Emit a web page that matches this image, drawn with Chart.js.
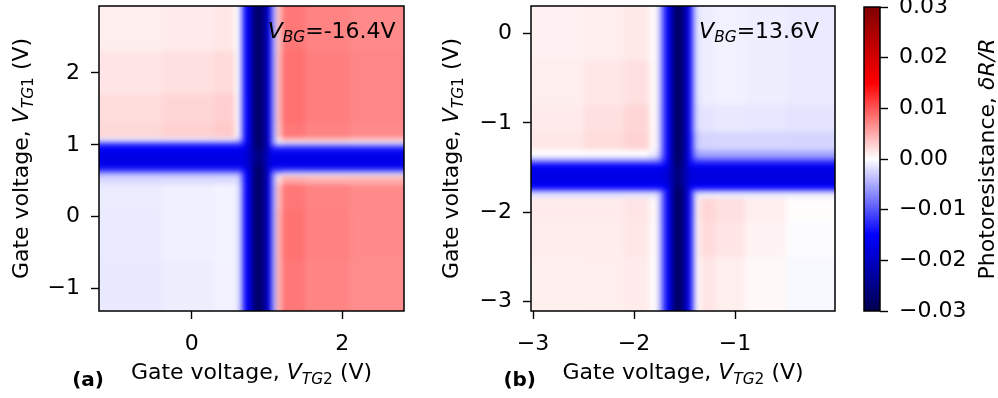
<!DOCTYPE html>
<html>
<head>
<meta charset="utf-8">
<script src="https://cdn.jsdelivr.net/npm/chart.js@4.4.1/dist/chart.umd.min.js"></script>
<style>
  body { margin: 0; background: #fff; }
  #wrap { position: relative; width: 998px; height: 398px; overflow: hidden; }
  canvas { position: absolute; top: 0; }
</style>
</head>
<body>
<div id="wrap">
  <canvas id="panelA" width="420" height="398" style="left:0px"></canvas>
  <canvas id="panelB" width="420" height="398" style="left:420px"></canvas>
  <canvas id="cbar" width="158" height="398" style="left:840px"></canvas>
</div>
<script>
// photoresistance dR/R, stored in units of 1e-3
const UNIT = 1e-3;

// ---- panel (a), V_BG = -16.4 V ----
const vtg2EdgesA = [-1.23, -0.4, 0.3, 0.58, 0.64, 0.70, 0.76, 0.82, 0.88, 0.94, 1.00, 1.06, 1.12, 1.2, 1.5, 2.1, 2.82];
const vtg1EdgesA = [2.93, 2.3, 1.7, 1.3, 1.1, 1.04, 0.98, 0.92, 0.86, 0.80, 0.74, 0.68, 0.62, 0.56, 0.45, 0.1, -0.6, -1.31];
const photoA = [
  [1.0, 1.2, 1.4, 0, -7, -15, -20, -27, -28, -24, -17, -6, 3.5, 8, 7.3, 6.9],
  [1.5, 1.8, 2.1, 0, -7, -15, -20, -27, -28, -24, -17, -6, 4, 8.4, 7.6, 7.1],
  [2.0, 2.4, 2.8, 0.3, -7, -15, -20, -27, -28, -24, -17, -6, 4, 8.4, 7.6, 7.1],
  [2.3, 2.7, 3.1, 0.3, -7, -15, -20, -27, -28, -24, -17, -6, 3.5, 8, 7.3, 6.9],
  [-1.5, -1.5, -1.5, -3, -8, -15, -20, -27, -28, -24, -17, -6, 1, 3, 3, 2.5],
  [-11, -11, -11, -11, -12, -16, -21, -27, -28, -24, -17, -7, -3, -3.5, -3.5, -3.5],
  [-15.5, -15.5, -15.5, -15.5, -16, -17, -21, -26, -27, -24, -18, -13, -13, -13, -13, -13],
  [-17, -17, -17, -17, -17, -18, -21, -25, -26, -23, -18, -16.5, -16.5, -16.5, -16.5, -16.5],
  [-17, -17, -17, -17, -17, -18, -21, -25, -26, -23, -18, -17, -17, -17, -17, -17],
  [-17, -17, -17, -17, -17, -18, -21, -25, -26, -23, -18, -17, -17, -17, -17, -17],
  [-16.5, -16.5, -16.5, -16.5, -17, -18, -21, -26, -27, -23, -18, -16.5, -16.5, -16.5, -16.5, -16.5],
  [-12, -12, -12, -12, -13, -16, -21, -27, -28, -24, -17, -12, -12, -11, -11, -11],
  [-5, -5, -5, -5, -9, -15, -20, -27, -28, -24, -17, -7, -3, -2, -2, -2],
  [-2.3, -2.2, -2.1, -2, -8, -15, -20, -27, -28, -24, -17, -6, 2, 5, 4.5, 4.5],
  [-1.1, -0.9, -0.7, -1.2, -7, -15, -20, -27, -28, -24, -17, -6, 4, 8, 7.3, 6.8],
  [-1.2, -0.9, -0.7, -1.2, -7, -15, -20, -27, -28, -24, -17, -6, 4.5, 8.3, 7.4, 6.8],
  [-1.3, -1.0, -0.8, -1.2, -7, -15, -20, -27, -28, -24, -17, -6, 4.5, 8, 7.2, 6.7]
];
const xTicksA = [0, 2];
const yTicksA = [-1, 0, 1, 2];
const vbgA = '=-16.4V';

// ---- panel (b), V_BG = 13.6 V ----
const vtg2EdgesB = [-3.02, -2.5, -2.1, -1.85, -1.76, -1.72, -1.68, -1.64, -1.60, -1.56, -1.52, -1.48, -1.44, -1.40, -1.34, -1.2, -0.9, -0.5, -0.01];
const vtg1EdgesB = [0.31, -0.3, -0.8, -1.1, -1.3, -1.38, -1.42, -1.46, -1.50, -1.54, -1.58, -1.62, -1.66, -1.70, -1.74, -1.78, -1.84, -2.1, -2.5, -3.11];
const photoB = [
  [0.8, 1.0, 1.3, 0.3, -4, -11, -15, -22, -28, -28, -23, -16, -8, -1.5, -1, -0.8, -1, -1.2],
  [1.0, 1.4, 1.8, 0.4, -4, -11, -15, -22, -28, -28, -23, -16, -8, -1.5, -1, -0.8, -1, -1.2],
  [1.2, 1.8, 2.4, 0.5, -4, -11, -15, -22, -28, -28, -23, -16, -8, -2, -1.5, -1.3, -1.4, -1.6],
  [1.4, 2.0, 2.6, 0.5, -4, -11, -15, -22, -28, -28, -23, -16, -9, -3, -2.5, -2.4, -2.4, -2.5],
  [0, 0, 0, -1, -5, -11, -15, -22, -28, -28, -23, -16, -10, -5.5, -5, -5, -5, -5],
  [-3, -3, -3, -4, -7, -12, -16, -22, -28, -28, -23, -16, -11, -8.5, -8, -8, -8, -8],
  [-9, -9, -9, -9, -10, -13, -16, -22, -27, -27, -23, -16, -13, -12, -12, -12, -12, -12],
  [-15, -15, -15, -15, -15, -15, -17, -22, -27, -27, -23, -17, -16, -16, -16, -16, -16, -16],
  [-16.5, -16.5, -16.5, -16.5, -16.5, -17, -18, -22, -26, -26, -22, -18, -17, -17, -17, -17, -17, -17],
  [-17, -17, -17, -17, -17, -17.5, -19, -22, -26, -26, -22, -19, -17.5, -17.5, -17.5, -17.5, -17.5, -17.5],
  [-17, -17, -17, -17, -17, -17.5, -19, -22, -26, -26, -22, -19, -17.5, -17.5, -17.5, -17.5, -17.5, -17.5],
  [-17, -17, -17, -17, -17, -17.5, -19, -22, -26, -26, -22, -19, -17.5, -17.5, -17.5, -17.5, -17.5, -17.5],
  [-16.5, -16.5, -16.5, -16.5, -16.5, -17, -18, -22, -26, -26, -22, -18, -17, -17, -17, -17, -17, -17],
  [-15, -15, -15, -15, -15, -15, -17, -22, -27, -27, -23, -17, -15, -15, -15, -15, -15, -15],
  [-8, -8, -8, -8, -9, -12, -15, -22, -28, -28, -23, -16, -10, -8, -8, -8, -8, -8],
  [-1.5, -1.5, -1.5, -1.5, -4, -11, -15, -22, -28, -28, -23, -16, -8, -1.5, -1, -1, -1, -1],
  [1.2, 1.2, 1.5, 0.5, -4, -11, -15, -22, -28, -28, -23, -16, -8, 1, 2.4, 1.8, 1, 0.2],
  [1.1, 1.1, 1.4, 0.4, -4, -11, -15, -22, -28, -28, -23, -16, -8, 0.8, 2.1, 1.5, 0.7, -0.2],
  [0.9, 1.0, 1.2, 0.3, -4, -11, -15, -22, -28, -28, -23, -16, -8, 0.5, 1.5, 1.0, 0.4, -0.4]
];
const xTicksB = [-3, -2, -1];
const yTicksB = [-3, -2, -1, 0];
const vbgB = '=13.6V';

// ---- colour bar ----
const cbarMin = -0.03;
const cbarMax = 0.03;
const cbarTicks = [-0.03, -0.02, -0.01, 0, 0.01, 0.02, 0.03];

// matplotlib "seismic" anchors
const seismicAnchors = [[0, 0, 0.3], [0, 0, 1], [1, 1, 1], [1, 0, 0], [0.5, 0, 0]];

const FONT = '"DejaVu Sans"';
const FS = 22;

function seismic(v) {
  let t = (v - cbarMin) / (cbarMax - cbarMin);
  t = Math.min(1, Math.max(0, t));
  const s = t * (seismicAnchors.length - 1);
  const i = Math.min(seismicAnchors.length - 2, Math.floor(s));
  const f = s - i;
  const a = seismicAnchors[i], b = seismicAnchors[i + 1];
  const c = a.map((av, k) => Math.round(255 * (av + (b[k] - av) * f)));
  return `rgb(${c[0]},${c[1]},${c[2]})`;
}

const minus = s => s.replace('-', '\u2212');

function richText(ctx, parts, x, y, align, angle) {
  ctx.save();
  ctx.translate(x, y);
  ctx.rotate(angle || 0);
  const fontOf = p => `${p.it ? 'italic ' : ''}${p.bold ? 'bold ' : ''}${p.sub ? FS * 0.7 : (p.size || FS)}px ${FONT}`;
  let w = 0;
  parts.forEach(p => { ctx.font = fontOf(p); w += ctx.measureText(p.t).width; });
  let cx = align === 'center' ? -w / 2 : align === 'right' ? -w : 0;
  ctx.fillStyle = '#000';
  ctx.textBaseline = 'alphabetic';
  ctx.textAlign = 'left';
  parts.forEach(p => {
    ctx.font = fontOf(p);
    ctx.fillText(p.t, cx, p.sub ? FS * 0.22 : 0);
    cx += ctx.measureText(p.t).width;
  });
  ctx.restore();
}

function makeHeatmapPlugin(xEdges, yEdges, values) {
  return {
    id: 'heatmap',
    beforeDatasetsDraw(chart) {
      const { ctx, chartArea: a, scales: { x, y } } = chart;
      const off = document.createElement('canvas');
      off.width = chart.width; off.height = chart.height;
      const octx = off.getContext('2d');
      values.forEach((row, j) => {
        let y0 = Math.round(y.getPixelForValue(yEdges[j]));
        let y1 = Math.round(y.getPixelForValue(yEdges[j + 1]));
        if (j === 0) y0 -= 8;
        if (j === values.length - 1) y1 += 8;
        row.forEach((v, i) => {
          let x0 = Math.round(x.getPixelForValue(xEdges[i]));
          let x1 = Math.round(x.getPixelForValue(xEdges[i + 1]));
          if (i === 0) x0 -= 8;
          if (i === row.length - 1) x1 += 8;
          octx.fillStyle = seismic(v * UNIT);
          octx.fillRect(x0, y0, x1 - x0, y1 - y0);
        });
      });
      ctx.save();
      ctx.beginPath();
      ctx.rect(a.left, a.top, a.right - a.left, a.bottom - a.top);
      ctx.clip();
      ctx.filter = 'blur(2.5px)';
      ctx.drawImage(off, 0, 0);
      ctx.restore();
    }
  };
}

const framePlugin = {
  id: 'frame',
  afterDraw(chart) {
    const { ctx, chartArea: a } = chart;
    ctx.save();
    ctx.strokeStyle = '#000';
    ctx.lineWidth = 1.5;
    ctx.strokeRect(a.left, a.top, a.right - a.left, a.bottom - a.top);
    ctx.restore();
  }
};

function makeLabelPlugin(letter, vbg, yLabelX) {
  return {
    id: 'labels',
    afterDraw(chart) {
      const { ctx, chartArea: a } = chart;
      const cx = (a.left + a.right) / 2, cy = (a.top + a.bottom) / 2;
      richText(ctx, [{ t: 'Gate voltage, ' }, { t: 'V', it: true }, { t: 'TG', it: true, sub: true }, { t: '2', sub: true }, { t: ' (V)' }], cx, 379, 'center');
      richText(ctx, [{ t: 'Gate voltage, ' }, { t: 'V', it: true }, { t: 'TG', it: true, sub: true }, { t: '1', sub: true }, { t: ' (V)' }], yLabelX, cy, 'center', -Math.PI / 2);
      richText(ctx, [{ t: letter, bold: true, size: 20 }], a.left + 5, 386, 'right');
      richText(ctx, [{ t: 'V', it: true }, { t: 'BG', it: true, sub: true }, { t: vbg }], a.left + 0.553 * (a.right - a.left), a.top + 31.5, 'left');
    }
  };
}

function axisOpts(min, max, ticks, fmt, pos, size) {
  return {
    type: 'linear',
    position: pos,
    min: min,
    max: max,
    afterBuildTicks: s => { s.ticks = ticks.map(v => ({ value: v })); },
    afterFit: s => {
      if (pos === 'bottom') s.height = size; else s.width = size;
      s.paddingTop = 0; s.paddingBottom = 0; s.paddingLeft = 0; s.paddingRight = 0;
    },
    ticks: {
      font: { family: 'DejaVu Sans', size: FS },
      color: '#000',
      padding: pos === 'bottom' ? 12 : 11,
      maxRotation: 0,
      autoSkip: false,
      callback: fmt
    },
    grid: { display: true, drawOnChartArea: false, drawTicks: true, tickLength: 8, tickWidth: 1.4, tickColor: '#000', color: '#000' },
    border: { display: false }
  };
}

const fmtInt = v => minus(String(v));
const fmtCbar = v => minus(v.toFixed(2));

function createPanel(id, grid, cfg) {
  return new Chart(document.getElementById(id), {
    type: 'scatter',
    data: { datasets: [] },
    options: {
      responsive: false,
      animation: false,
      events: [],
      layout: { padding: cfg.padding },
      plugins: { legend: { display: false }, tooltip: { enabled: false } },
      scales: {
        x: axisOpts(grid.xEdges[0], grid.xEdges[grid.xEdges.length - 1], cfg.xTicks, fmtInt, 'bottom', 87),
        y: axisOpts(grid.yEdges[grid.yEdges.length - 1], grid.yEdges[0], cfg.yTicks, fmtInt, 'left', cfg.yAxisWidth)
      }
    },
    plugins: [makeHeatmapPlugin(grid.xEdges, grid.yEdges, grid.values), framePlugin, makeLabelPlugin(cfg.letter, cfg.vbg, cfg.yLabelX)]
  });
}

createPanel('panelA', { xEdges: vtg2EdgesA, yEdges: vtg1EdgesA, values: photoA },
  { padding: { left: 0, right: 16, top: 6, bottom: 0 }, yAxisWidth: 99, xTicks: xTicksA, yTicks: yTicksA, letter: '(a)', vbg: vbgA, yLabelX: 28 });
createPanel('panelB', { xEdges: vtg2EdgesB, yEdges: vtg1EdgesB, values: photoB },
  { padding: { left: 0, right: 5, top: 6, bottom: 0 }, yAxisWidth: 111, xTicks: xTicksB, yTicks: yTicksB, letter: '(b)', vbg: vbgB, yLabelX: 38 });

const colorbarPlugin = {
  id: 'colorbar',
  beforeDatasetsDraw(chart) {
    const { ctx, chartArea: a, scales: { y } } = chart;
    const g = ctx.createLinearGradient(0, y.getPixelForValue(cbarMin), 0, y.getPixelForValue(cbarMax));
    seismicAnchors.forEach((c, i) => {
      g.addColorStop(i / (seismicAnchors.length - 1), `rgb(${c.map(k => Math.round(k * 255)).join(',')})`);
    });
    ctx.save();
    ctx.fillStyle = g;
    ctx.fillRect(a.left, a.top, a.right - a.left, a.bottom - a.top);
    ctx.restore();
  },
  afterDraw(chart) {
    const { ctx, chartArea: a } = chart;
    richText(ctx, [{ t: 'Photoresistance, ' }, { t: '\u03b4R/R', it: true }], 154, (a.top + a.bottom) / 2, 'center', -Math.PI / 2);
  }
};

new Chart(document.getElementById('cbar'), {
  type: 'scatter',
  data: { datasets: [] },
  options: {
    responsive: false,
    animation: false,
    events: [],
    layout: { padding: { left: 24, right: 0, top: 7, bottom: 87 } },
    plugins: { legend: { display: false }, tooltip: { enabled: false } },
    scales: {
      x: { display: false, min: 0, max: 1 },
      y: axisOpts(cbarMin, cbarMax, cbarTicks, fmtCbar, 'right', 118)
    }
  },
  plugins: [colorbarPlugin, framePlugin]
});
</script>
</body>
</html>
